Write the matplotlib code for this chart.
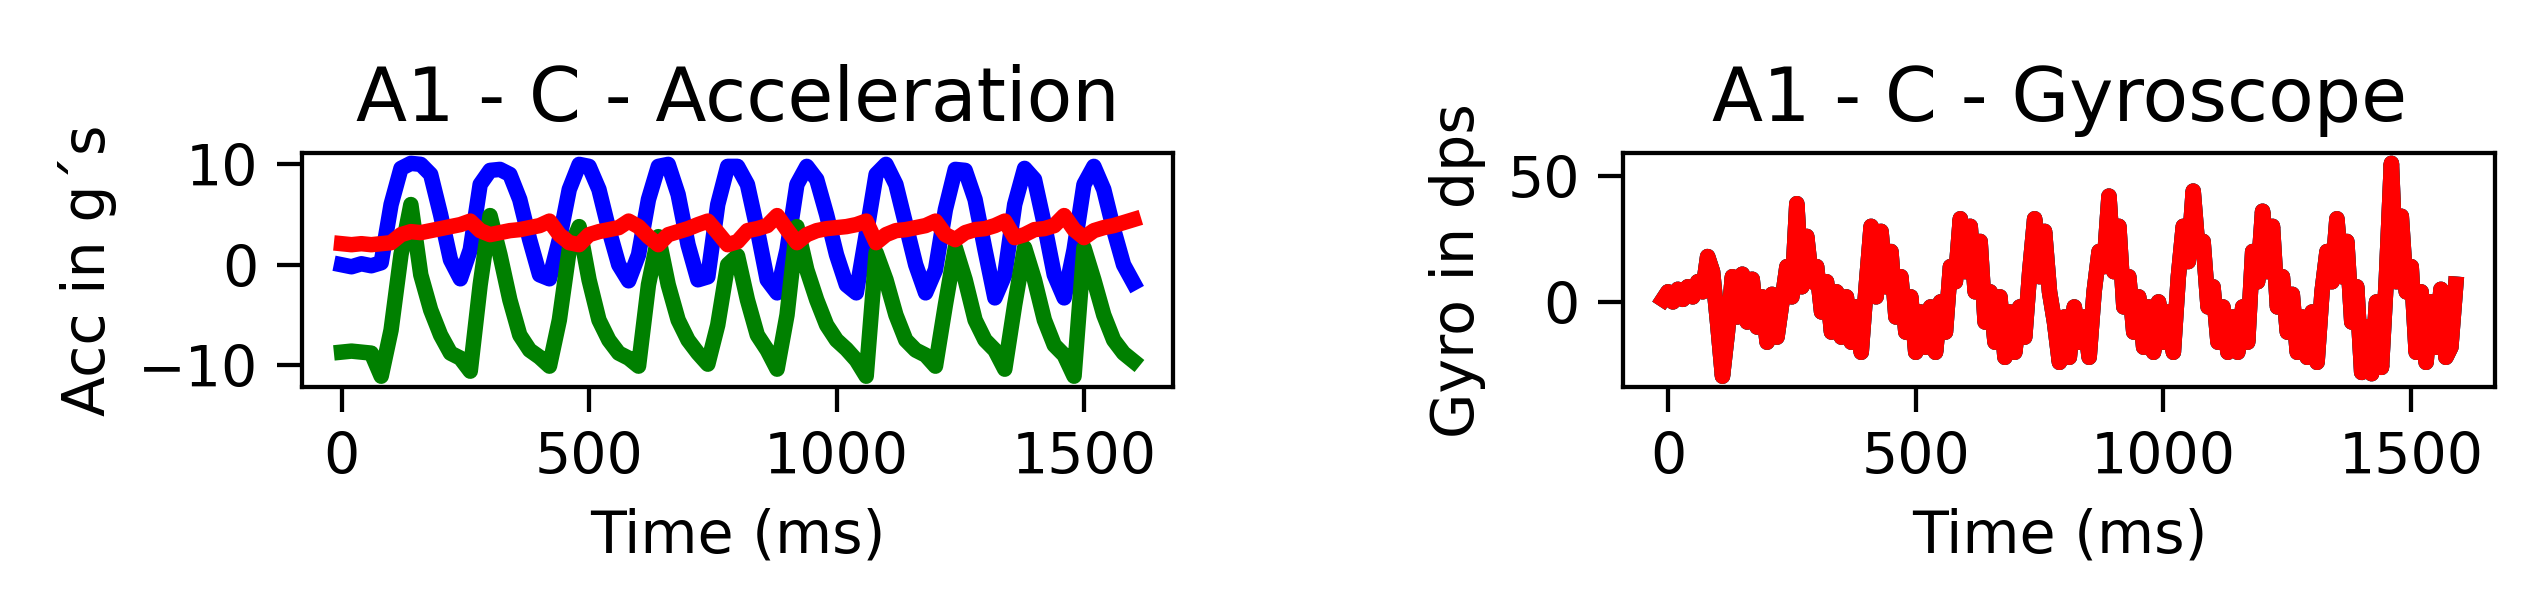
import matplotlib
matplotlib.use("Agg")
import matplotlib.pyplot as plt

# --- accelerometer, sampled every 20 ms ---
acc_time = list(range(0, 1601, 20))

acc_x = [0.0, -0.2, 0.1, -0.1, 0.2, 6.0, 9.6, 10.1, 10.0, 9.0,
         5.0, 0.5, -1.4, 1.5, 8.0, 9.4, 9.5, 9.0, 6.5, 2.5,
         -1.0, -1.4, 2.5, 7.5, 10.0, 9.8, 7.5, 3.5, 0.0, -1.6,
         1.0, 6.5, 9.8, 10.0, 7.0, 2.0, -1.5, -1.2, 6.0, 9.8,
         9.8, 8.0, 3.5, -1.5, -2.8, 1.5, 8.0, 9.8, 8.5, 5.0,
         1.0, -2.0, -2.8, 3.0, 9.0, 10.0, 8.0, 4.0, 0.0, -2.8,
         -0.5, 5.5, 9.5, 9.4, 6.5, 1.5, -3.3, -1.0, 6.0, 9.6,
         8.5, 4.0, -1.0, -3.3, 1.5, 8.0, 9.8, 7.5, 3.5, 0.0,
         -1.8]

acc_y = [-8.7, -8.6, -8.7, -8.8, -11.1, -6.5, 1.0, 6.0, -1.0, -4.5,
         -7.0, -8.8, -9.3, -10.6, -2.0, 4.9, 1.0, -3.5, -7.0, -8.5,
         -9.2, -10.1, -5.5, 1.5, 3.8, -1.5, -5.5, -7.5, -8.8, -9.3,
         -10.1, -2.0, 2.8, -2.0, -5.5, -7.5, -8.8, -9.9, -6.0, 0.0,
         0.9, -3.5, -7.0, -8.5, -10.4, -5.0, 3.8, -0.5, -3.5, -6.0,
         -7.5, -8.4, -9.5, -11.1, 1.2, -1.5, -5.0, -7.5, -8.5, -9.0,
         -10.1, -4.0, 1.7, -1.5, -5.5, -7.5, -8.5, -10.4, -4.0, 1.7,
         -1.5, -5.5, -8.0, -9.0, -11.1, 1.7, -1.5, -5.0, -7.5, -8.8,
         -9.6]

acc_z = [2.1, 2.0, 2.1, 2.0, 2.1, 2.2, 3.0, 3.3, 3.2, 3.4,
         3.6, 3.8, 4.0, 4.35, 3.4, 3.0, 3.2, 3.4, 3.5, 3.7,
         3.9, 4.35, 3.0, 2.2, 2.0, 3.0, 3.3, 3.5, 3.7, 4.35,
         3.8, 2.8, 2.0, 3.0, 3.3, 3.6, 4.0, 4.35, 3.2, 2.0,
         2.3, 3.4, 3.6, 3.9, 4.9, 3.5, 2.2, 3.0, 3.4, 3.6,
         3.7, 3.8, 4.0, 4.35, 2.2, 3.0, 3.4, 3.5, 3.7, 3.9,
         4.35, 3.0, 2.5, 3.2, 3.5, 3.6, 3.9, 4.35, 2.7, 3.0,
         3.5, 3.6, 3.9, 4.9, 3.5, 2.7, 3.4, 3.7, 3.9, 4.2,
         4.5]

# --- gyroscope, sampled every 10 ms (the three axes come out identical) ---
gyro_time = list(range(-10, 1591, 10))

gyro = [1, 4, 0, 5, 1, 6, 2, 8, 4, 18,
        12, -8, -29.5, -12, 10, -6, 11, -8, 9, -10,
        2, -16, 3, -14, 0, 14, 2, 39, 6, 26,
        8, 14, -4, 8, -12, 4, -14, 2, -16, -2,
        -20, 6, 30, 2, 28, 6, 20, -6, 10, -12,
        2, -20, -4, -18, -2, -20, 0, -12, 14, 8,
        33, 12, 30, 4, 24, -8, 4, -16, 2, -22,
        -4, -20, -2, -14, 12, 33, 10, 28, 4, -8,
        -24, -6, -22, -2, -16, -6, -22, 4, 20, 14,
        42, 12, 30, -2, 10, -12, 2, -18, -2, -20,
        0, -16, -4, -20, 10, 30, 16, 44, 20, 24,
        -2, 6, -16, -2, -20, -6, -20, -2, -16, 20,
        8, 36, 12, 30, -2, 10, -12, 3, -20, -6,
        -22, -4, -24, 4, 20, 8, 33, 10, 24, -8,
        6, -28, -10, -28.5, 0, -26, 10, 55, 8, 34,
        4, 14, -20, 4, -24, 0, -18, 5, -22, -18,
        7]
gyro_x = gyro
gyro_y = gyro
gyro_z = gyro

DPI = 384
fig = plt.figure(figsize=(2531.4 / DPI, 594.4 / DPI), dpi=DPI)

ax1 = fig.add_axes([0.1193, 0.3485, 0.3441, 0.3939])
ax2 = fig.add_axes([0.6413, 0.3485, 0.3445, 0.3939])

LW = 2.9
ax1.plot(acc_time, acc_x, color='b', linewidth=LW)
ax1.plot(acc_time, acc_y, color='g', linewidth=LW)
ax1.plot(acc_time, acc_z, color='r', linewidth=LW)
ax1.set_title('A1 - C - Acceleration', fontsize=14)
ax1.set_xlabel('Time (ms)', fontsize=11)
ax1.set_ylabel('Acc in g\u00b4s', fontsize=11)

ax2.plot(gyro_time, gyro_x, color='b', linewidth=LW)
ax2.plot(gyro_time, gyro_y, color='g', linewidth=LW)
ax2.plot(gyro_time, gyro_z, color='r', linewidth=LW)
ax2.set_title('A1 - C - Gyroscope', fontsize=14)
ax2.set_xlabel('Time (ms)', fontsize=11)
ax2.set_ylabel('Gyro in dps', fontsize=11)

for ax in (ax1, ax2):
    ax.set_xticks([0, 500, 1000, 1500])
    ax.tick_params(labelsize=10.7, length=4.7)
ax1.set_yticks([-10, 0, 10])
ax2.set_yticks([0, 50])

fig.savefig('out.png', dpi=DPI, facecolor='white')
